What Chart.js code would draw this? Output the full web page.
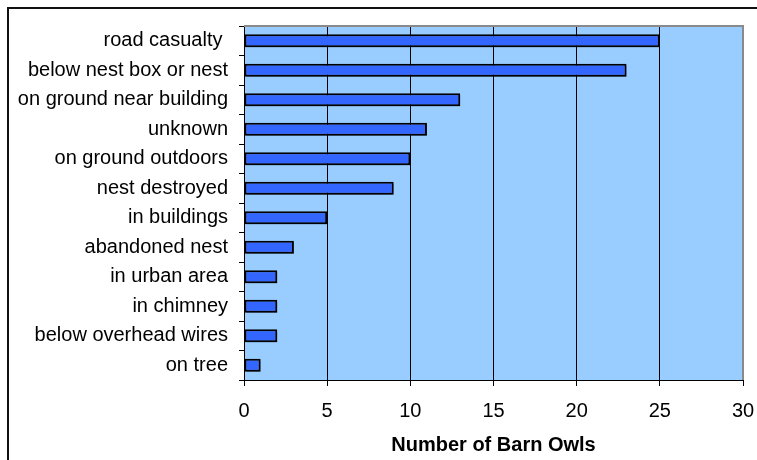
<!DOCTYPE html>
<html>
<head>
<meta charset="utf-8">
<script src="https://cdn.jsdelivr.net/npm/chart.js@4/dist/chart.umd.min.js"></script>
<style>
  html, body { margin: 0; padding: 0; background: #fff; }
  #wrap { width: 757px; height: 460px; position: relative; }
</style>
</head>
<body>
<div id="wrap"><canvas id="owls" width="757" height="460"></canvas></div>
<script>
// where the barn owls were found, top to bottom
const causes = [
  'road casualty ', 'below nest box or nest', 'on ground near building', 'unknown',
  'on ground outdoors', 'nest destroyed', 'in buildings', 'abandoned nest',
  'in urban area', 'in chimney', 'below overhead wires', 'on tree'
];
const owlCounts = [25, 23, 13, 11, 10, 9, 5, 3, 2, 2, 2, 1];
const xTicks = [0, 5, 10, 15, 20, 25, 30];

const FONT = 'Liberation Sans, Arial, sans-serif';

// light blue plot area, grey edge top/right, plus the outer frame lines
const backdrop = {
  id: 'backdrop',
  beforeDraw(chart) {
    const { ctx, chartArea: a } = chart;
    ctx.save();
    ctx.fillStyle = '#99CCFF';
    ctx.fillRect(a.left, a.top, a.right - a.left, a.bottom - a.top);
    ctx.strokeStyle = '#111';
    ctx.lineWidth = 2;
    ctx.beginPath();
    ctx.moveTo(8, 460);
    ctx.lineTo(8, 8);
    ctx.lineTo(757, 8);
    ctx.stroke();
    ctx.restore();
  },
  // soft drop shadow under the bars
  beforeDatasetsDraw(chart) {
    const ctx = chart.ctx;
    ctx.save();
    ctx.shadowColor = 'rgba(0,0,0,0.3)';
    ctx.shadowOffsetX = 2;
    ctx.shadowOffsetY = 2;
    ctx.shadowBlur = 0;
  },
  afterDatasetsDraw(chart) {
    const { ctx, chartArea: a } = chart;
    ctx.restore();
    ctx.save();
    ctx.strokeStyle = '#8a8a8a';
    ctx.lineWidth = 2;
    ctx.beginPath();
    ctx.moveTo(a.left, a.top);
    ctx.lineTo(a.right, a.top);
    ctx.lineTo(a.right, a.bottom);
    ctx.stroke();
    ctx.restore();
  }
};

new Chart(document.getElementById('owls'), {
  type: 'bar',
  data: {
    labels: causes,
    datasets: [{
      data: owlCounts,
      backgroundColor: '#3366FF',
      borderColor: '#000',
      borderWidth: 2,
      borderSkipped: false,
      barPercentage: 0.44,
      categoryPercentage: 1
    }]
  },
  options: {
    indexAxis: 'y',
    responsive: false,
    animation: false,
    layout: { padding: { top: 26, right: 14, left: 0, bottom: 0 } },
    plugins: { legend: { display: false }, tooltip: { enabled: false } },
    scales: {
      x: {
        min: 0,
        max: 30,
        afterBuildTicks: (s) => { s.ticks = xTicks.map(v => ({ value: v })); },
        afterFit: (s) => { s.height = 80; s.paddingLeft = 0; s.paddingRight = 0; },
        grid: { color: '#000', lineWidth: 1, tickLength: 6, tickColor: '#000' },
        border: { color: '#000', width: 1 },
        ticks: { color: '#000', font: { family: FONT, size: 20 }, padding: 13, maxRotation: 0 },
        title: {
          display: true,
          text: 'Number of Barn Owls',
          color: '#000',
          font: { family: FONT, size: 20, weight: 'bold' },
          padding: { top: 4, bottom: 3 }
        }
      },
      y: {
        afterFit: (s) => { s.width = 244; s.paddingTop = 0; s.paddingBottom = 0; },
        grid: { drawOnChartArea: false, offset: true, tickLength: 5, tickColor: '#000' },
        border: { color: '#000', width: 1 },
        ticks: { color: '#000', font: { family: FONT, size: 20 }, padding: 11, autoSkip: false }
      }
    }
  },
  plugins: [backdrop]
});
</script>
</body>
</html>
